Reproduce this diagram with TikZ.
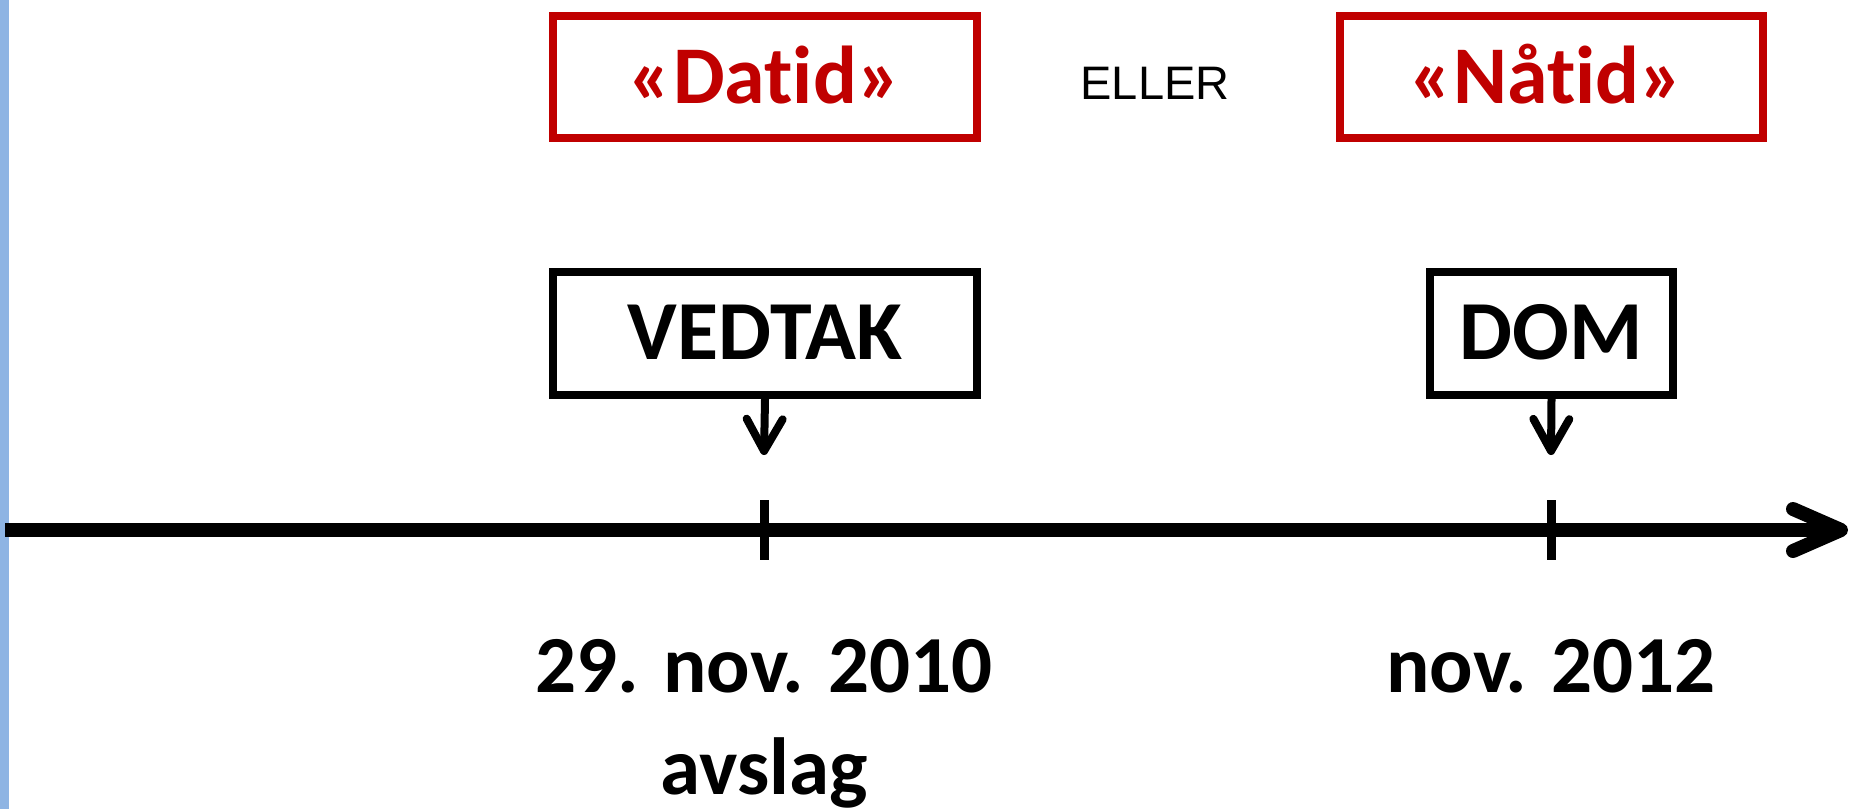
\documentclass[tikz,border=0pt]{standalone}
\usepackage{fontspec}
\setmainfont{Carlito}[Ligatures=NoCommon]
\newfontfamily\arialfont{Liberation Sans}
\usetikzlibrary{arrows.meta}
\definecolor{tidred}{RGB}{192,0,0}
\definecolor{barblue}{RGB}{142,180,227}

\begin{document}
\begin{tikzpicture}[x=1pt,y=-1pt,
		redbox/.style={draw=tidred,line width=8pt,minimum width=424pt,minimum height=122pt,inner sep=0pt,text=tidred,font=\fontsize{82}{98}\selectfont\bfseries,text height=52pt,text depth=0pt},
		blackbox/.style={draw,line width=8pt,minimum height=123pt,inner sep=0pt,font=\fontsize{84}{100}\selectfont\bfseries,text height=52pt,text depth=0pt},
		datetext/.style={font=\fontsize{81}{98}\selectfont\bfseries,anchor=base},
		pointer/.style={line width=8pt,-{Straight Barb[length=32pt,width=36pt,round]}},
		tick/.style={line width=9pt}]
	
	\useasboundingbox (0,0) rectangle (1849,809);
	\fill[barblue] (0,0) rectangle (9,809);
	
	\node[redbox] (datid) at (765,77) {«Datid»};
	\node[font=\arialfont\fontsize{47}{56}\selectfont] (eller) at (1155,83) {ELLER};
	\node[redbox,minimum width=423pt] (naatid) at (1551.5,77) {\hspace*{-10pt}«Nåtid»};
	
	\node[blackbox,minimum width=424pt] (vedtak) at (765,333.5) {VEDTAK};
	\node[blackbox,minimum width=243pt] (dom) at (1551.5,333.5) {DOM};
	
	\coordinate (start) at (5,530);
	\coordinate (end) at (1848,530);
	\coordinate (t1) at (764,530);
	\coordinate (t2) at (1551,530);
	\coordinate (p1) at (764,455);
	\coordinate (p2) at (1551,455);
	
	\draw[line width=14pt,-{Straight Barb[length=48pt,width=42pt,round]}] (start) -- (end);
	\draw[tick] ([yshift=30pt]t1) -- ([yshift=-30pt]t1);
	\draw[tick] ([yshift=30pt]t2) -- ([yshift=-30pt]t2);
	
	\draw[pointer] (vedtak.south) -- (p1);
	\draw[pointer] (dom.south) -- (p2);
	
	\node[datetext] (dato1) at (764,692) {29. nov. 2010};
	\node[datetext] (avslag) at (764,794) {avslag};
	\node[datetext] (dato2) at (1551,692) {nov. 2012};
	
\end{tikzpicture}
\end{document}
